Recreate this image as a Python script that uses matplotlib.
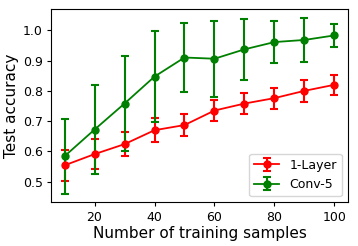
import matplotlib
matplotlib.use("Agg")
import matplotlib.pyplot as plt

samples = [10, 20, 30, 40, 50, 60, 70, 80, 90, 100]
layer1_mean = [0.554, 0.591, 0.624, 0.670, 0.687, 0.735, 0.758, 0.776, 0.800, 0.820]
layer1_err = [0.052, 0.050, 0.040, 0.040, 0.035, 0.035, 0.036, 0.035, 0.037, 0.033]
conv5_mean = [0.584, 0.672, 0.758, 0.847, 0.910, 0.906, 0.937, 0.961, 0.968, 0.983]
conv5_err = [0.123, 0.146, 0.157, 0.150, 0.113, 0.125, 0.100, 0.070, 0.072, 0.037]

fig = plt.figure(figsize=(3.58, 2.46), dpi=100)
ax = fig.add_axes([0.1425, 0.1776, 0.8295, 0.7844])

ax.errorbar(samples, layer1_mean, yerr=layer1_err, color='red', marker='o',
            markersize=5, linewidth=1.3, elinewidth=1.5, capsize=3, capthick=1.5,
            label='1-Layer')
ax.errorbar(samples, conv5_mean, yerr=conv5_err, color='green', marker='o',
            markersize=5, linewidth=1.3, elinewidth=1.5, capsize=3, capthick=1.5,
            label='Conv-5')

ax.set_ylim(0.432, 1.069)
ax.set_xticks([20, 40, 60, 80, 100])
ax.set_yticks([0.5, 0.6, 0.7, 0.8, 0.9, 1.0])
ax.tick_params(labelsize=9, length=3, pad=3)
ax.set_xlabel('Number of training samples', fontsize=11, labelpad=2)
ax.set_ylabel('Test accuracy', fontsize=11, labelpad=3)
ax.legend(loc='lower right', fontsize=9)

fig.savefig('out.png', dpi=100)
